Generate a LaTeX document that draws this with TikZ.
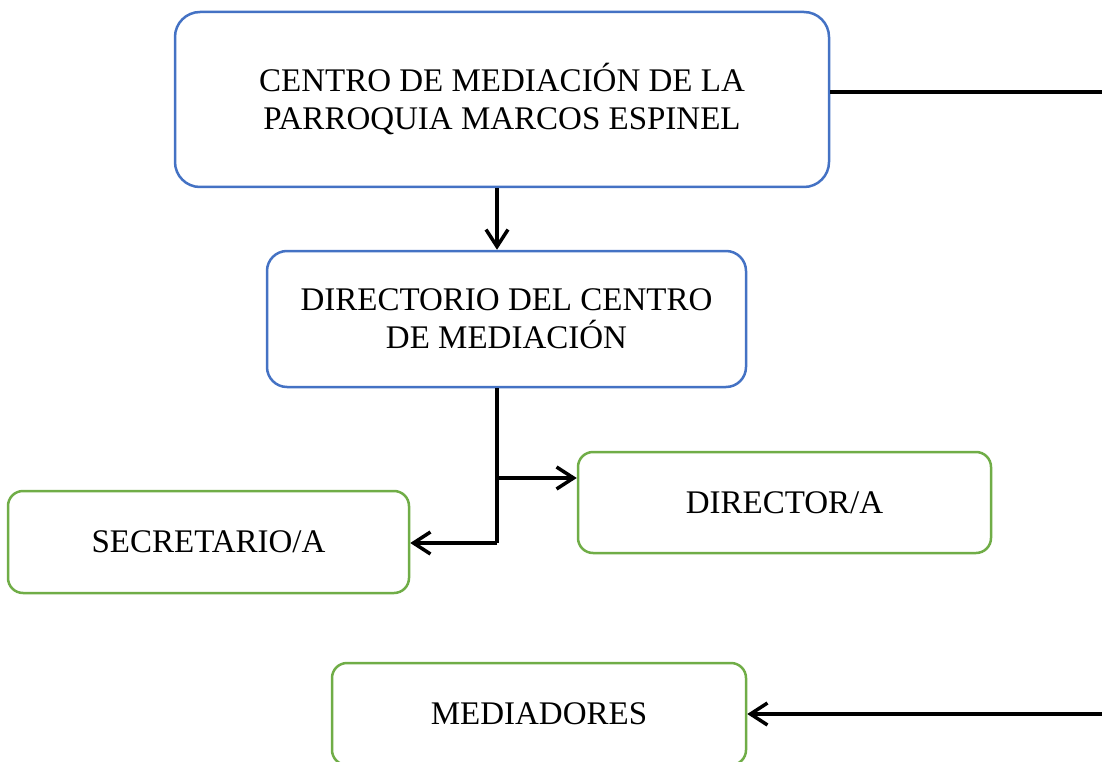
\documentclass[tikz,border=0pt]{standalone}
\usepackage{fontspec}
\setmainfont{Liberation Serif}
\usetikzlibrary{arrows.meta, positioning, calc}
\definecolor{unitcolor}{RGB}{68,114,196}
\definecolor{staffcolor}{RGB}{112,173,71}

\begin{document}
\begin{tikzpicture}[
    x=1pt, y=-1pt,
    unit/.style={draw=unitcolor, line width=2.5pt, fill=white, rounded corners=#1, align=center, font=\fontsize{33}{38}\selectfont, inner sep=0pt},
    staff/.style={draw=staffcolor, line width=2.5pt, fill=white, rounded corners=15pt, align=center, font=\fontsize{33}{38}\selectfont, inner sep=0pt},
    link/.style={line width=3.5pt},
    arrow/.style={line width=3.5pt, -{Straight Barb[length=17pt, width=22pt, line width=3.5pt]}}
]
    \useasboundingbox (0,0) rectangle (1102,762);

    % Units
    \node[unit=25pt, minimum width=654pt, minimum height=175pt] (centro) at (502,99.5) {CENTRO DE MEDIACIÓN DE LA\\PARROQUIA MARCOS ESPINEL};
    \node[unit=20pt, minimum width=479pt, minimum height=136pt] (directorio) at (506.5,319) {DIRECTORIO DEL CENTRO\\DE MEDIACIÓN};

    % Staff
    \node[staff, minimum width=413pt, minimum height=101pt] (director) at (784.5,502.5) {DIRECTOR/A};
    \node[staff, minimum width=401pt, minimum height=102pt] (secretario) at (208.5,542) {SECRETARIO/A};
    \node[staff, minimum width=414pt, minimum height=102pt] (mediadores) at (539,714) {MEDIADORES};

    % Junctions and free ends
    \coordinate (jun) at (497,543);
    \coordinate (rtop) at (1102,92);
    \coordinate (rbot) at (1102,714);

    % Connections
    \draw[arrow] (centro.south -| jun) -- (directorio.north -| jun);
    \draw[link] (directorio.south -| jun) -- (jun);
    \draw[arrow] (jun) -- (secretario.east |- jun);
    \draw[arrow] (jun |- {$(director.west)+(0,-24.5)$}) -- ($(director.west)+(0,-24.5)$);
    \draw[link] (centro.east |- rtop) -- (rtop);
    \draw[arrow] (rbot) -- (mediadores.east);
\end{tikzpicture}
\end{document}
